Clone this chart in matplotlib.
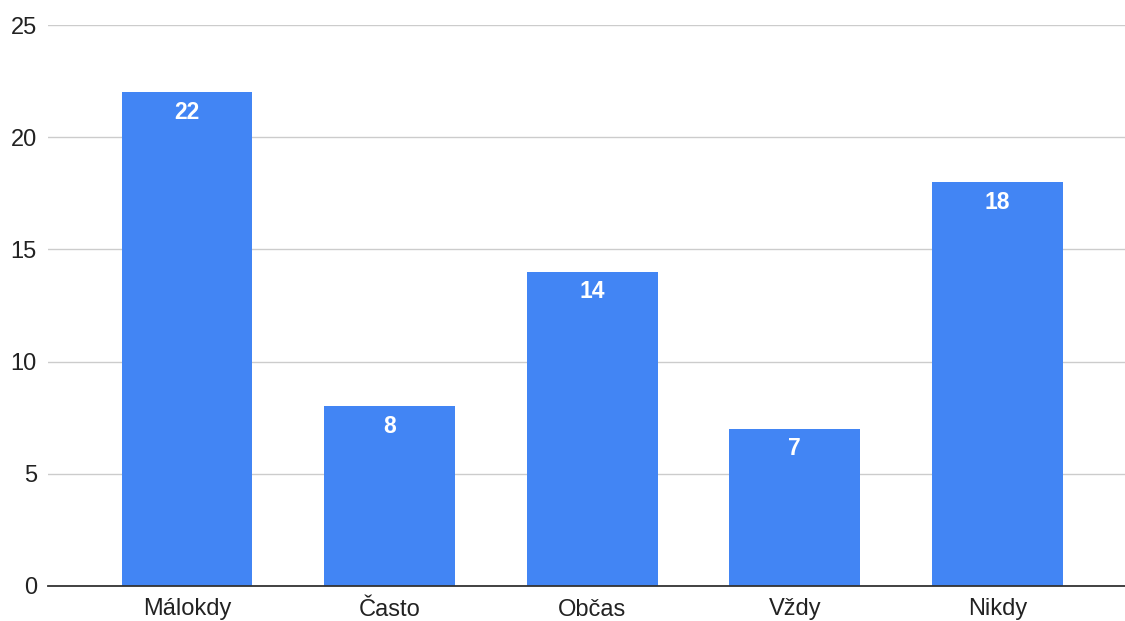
import matplotlib.pyplot as plt

categories = ["Málokdy", "Často", "Občas", "Vždy", "Nikdy"]
counts = [22, 8, 14, 7, 18]
yticks = [0, 5, 10, 15, 20, 25]

plt.rcParams["font.family"] = ["Liberation Sans", "DejaVu Sans"]

fig = plt.figure(figsize=(11.25, 6.21), dpi=100)
ax = fig.add_axes([48 / 1125, 1 - 586 / 621, 1 - 48 / 1125, (586 - 25) / 621])

x = list(range(len(categories)))
bars = ax.bar(x, counts, width=0.645, color="#4285F4", zorder=3)

for rect, val in zip(bars, counts):
    ax.annotate(str(val), (rect.get_x() + rect.get_width() / 2, val),
                xytext=(0, -20), textcoords="offset pixels",
                ha="center", va="center", color="white", fontsize=16.5, fontweight="bold", zorder=4)

ax.set_xlim(-0.686, 4.63)
ax.set_ylim(0, 25)
ax.set_yticks(yticks)
ax.set_xticks(x)
ax.set_xticklabels(categories)
ax.tick_params(axis="both", length=0, labelsize=17, colors="#222222")
ax.tick_params(axis="y", pad=8)
ax.tick_params(axis="x", pad=9)

ax.grid(axis="y", color="#cccccc", linewidth=1, zorder=0)
for s in ["top", "right", "left"]:
    ax.spines[s].set_visible(False)
ax.spines["bottom"].set_color("#333333")
ax.spines["bottom"].set_linewidth(1.3)
ax.spines["bottom"].set_zorder(5)

fig.savefig("out.png", dpi=100)
